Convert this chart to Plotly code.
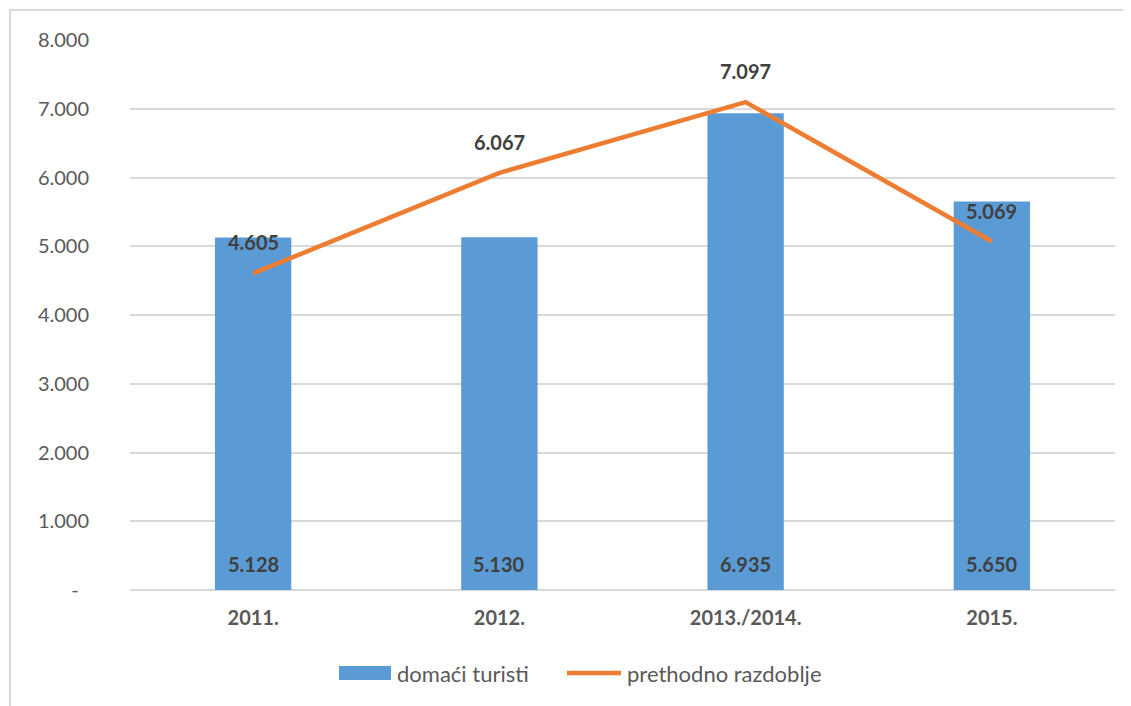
import plotly.graph_objects as go

categories = ["2011.", "2012.", "2013./2014.", "2015."]
domaci_turisti = [5128, 5130, 6935, 5650]
prethodno_razdoblje = [4605, 6067, 7097, 5069]
tick_vals = [0, 1000, 2000, 3000, 4000, 5000, 6000, 7000, 8000]
tick_text = ["-\u00a0\u00a0", "1.000", "2.000", "3.000", "4.000", "5.000", "6.000", "7.000", "8.000"]
series_names = ["domaći turisti", "prethodno razdoblje"]

def fmt(v):
    return f"{v:,}".replace(",", ".")

FONT = "Lato, Open Sans, sans-serif"
BLUE = "#5b9bd5"
ORANGE = "#ed7d31"

# page offset (body margin) and margins
OFF = 8
ML, MR, MT, MB = 122, 24, 32, 124
W, H = 1131, 706
PW, PH = W - ML - MR, H - MT - MB

def px(x):
    return (x - OFF - ML) / PW

def py(y):
    return 1 - (y - OFF - MT) / PH

fig = go.Figure()
fig.add_trace(go.Bar(
    x=categories, y=domaci_turisti, name=series_names[0],
    marker=dict(color=BLUE, line=dict(width=0)),
    width=0.31, showlegend=False,
))
fig.add_trace(go.Scatter(
    x=categories, y=prethodno_razdoblje, name=series_names[1],
    mode="lines", line=dict(color=ORANGE, width=4.5), showlegend=False,
))
for i, v in enumerate(domaci_turisti):
    fig.add_annotation(x=i, y=0, text="<b>" + fmt(v) + "</b>", showarrow=False, yshift=26,
                       font=dict(family=FONT, size=20, color="#404040"))
for i, v in enumerate(prethodno_razdoblje):
    fig.add_annotation(x=i, y=v, text="<b>" + fmt(v) + "</b>", showarrow=False, yshift=31,
                       font=dict(family=FONT, size=20, color="#404040"))

# chart border
fig.add_shape(type="rect", xref="paper", yref="paper",
              x0=px(10), x1=px(1129), y0=py(760), y1=py(10),
              line=dict(color="#d9d9d9", width=2), layer="below")

# legend
fig.add_shape(type="rect", xref="paper", yref="paper",
              x0=px(339), x1=px(391), y0=py(680), y1=py(666),
              fillcolor=BLUE, line=dict(width=0))
fig.add_annotation(xref="paper", yref="paper", x=px(395), y=py(673), text=series_names[0],
                   xanchor="left", yanchor="middle", showarrow=False,
                   font=dict(family=FONT, size=22, color="#595959"))
fig.add_shape(type="line", xref="paper", yref="paper",
              x0=px(567), x1=px(621), y0=py(673), y1=py(673),
              line=dict(color=ORANGE, width=4.5))
fig.add_annotation(xref="paper", yref="paper", x=px(625), y=py(673), text=series_names[1],
                   xanchor="left", yanchor="middle", showarrow=False,
                   font=dict(family=FONT, size=22, color="#595959"))

fig.update_layout(
    width=W, height=H,
    margin=dict(l=ML, r=MR, t=MT, b=MB),
    paper_bgcolor="white", plot_bgcolor="white",
    font=dict(family=FONT, size=20, color="#595959"),
    showlegend=False,
)
fig.update_yaxes(range=[0, 8000], tickvals=tick_vals, ticktext=tick_text,
                 showgrid=True, gridcolor="#d9d9d9", gridwidth=1.5,
                 zeroline=True, zerolinecolor="#d9d9d9", zerolinewidth=1.5,
                 showline=False, ticks="", ticklabelstandoff=40,
                 tickfont=dict(family=FONT, size=20, color="#595959"))
fig.update_xaxes(type="category", categoryorder="array", categoryarray=categories,
                 range=[-0.5, len(categories) - 0.5],
                 showgrid=False, showline=False, ticks="", ticklabelstandoff=14,
                 tickvals=categories, ticktext=["<b>" + c + "</b>" for c in categories],
                 tickfont=dict(family=FONT, size=20, color="#595959"))

fig.write_html("out.html")
